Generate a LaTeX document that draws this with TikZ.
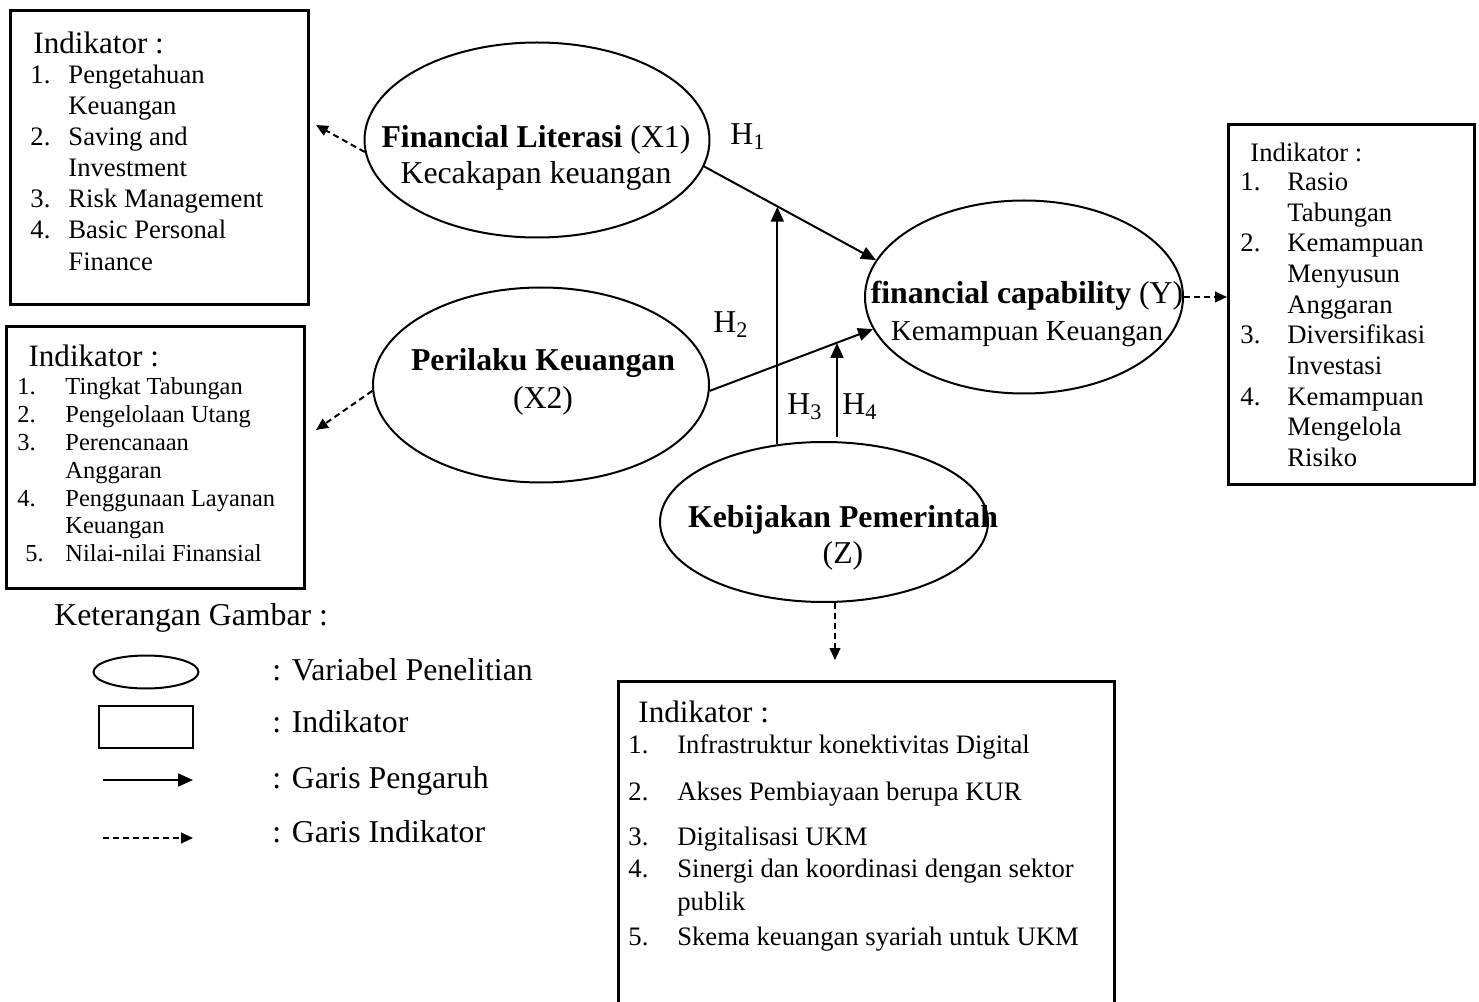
\documentclass[tikz,border=0pt]{standalone}
\usepackage{fontspec}
\setmainfont{Liberation Serif}
\usetikzlibrary{shapes.geometric, arrows.meta}
\newcommand{\pxu}{0.45pt}
\newcommand{\fsvar}{\fontsize{14.3pt}{16.2pt}\selectfont}
\begin{document}
\begin{tikzpicture}[
    x=\pxu, y=-\pxu,
    var/.style={ellipse, draw, line width=0.9pt, inner sep=0pt},
    indbox/.style={rectangle, draw, line width=1.2pt, inner sep=0pt, anchor=north west},
    listtext/.style={inner sep=0pt, anchor=north west},
    vartext/.style={align=center, inner sep=0pt, font=\fsvar},
    hlabel/.style={inner sep=0pt, anchor=base west, font=\fsvar},
    legtext/.style={inner sep=0pt, anchor=base west, font=\fsvar},
    effect/.style={line width=0.9pt, -{Triangle[length=6.7pt, width=5.8pt]}},
    indline/.style={line width=0.9pt, dash pattern=on 2.7pt off 1.8pt, -{Triangle[length=5.4pt, width=4.8pt]}}
]
    \useasboundingbox (0,0) rectangle (1479,1002);

    % Indicator boxes
    \node [indbox, minimum width=298*\pxu, minimum height=294*\pxu] (ind1) at (9,9) {};
    \node [indbox, minimum width=298*\pxu, minimum height=262*\pxu] (ind2) at (5,325) {};
    \node [indbox, minimum width=246*\pxu, minimum height=360*\pxu] (ind3) at (1227,123) {};
    \node [indbox, minimum width=496*\pxu, minimum height=340*\pxu] (ind4) at (617,680) {};

    \node [listtext] (ind1list) at (30,31) {\fontsize{12pt}{13.9pt}\selectfont
        \begin{tabular}{@{}p{17.1pt}@{}l@{}}
        \multicolumn{2}{@{\hspace{1.35pt}}l@{}}{\fontsize{14pt}{13.9pt}\selectfont Indikator :}\\
        1. & Pengetahuan\\
           & Keuangan\\
        2. & Saving and\\
           & Investment\\
        3. & Risk Management\\
        4. & Basic Personal\\[0.6pt]
           & Finance
        \end{tabular}};
    \node [listtext] (ind2list) at (17,344) {\fontsize{11pt}{12.5pt}\selectfont
        \begin{tabular}{@{}p{21.6pt}@{}l@{}}
        \multicolumn{2}{@{\hspace{5pt}}l@{}}{\fontsize{14pt}{12.5pt}\selectfont Indikator :}\\[0.5pt]
        1. & Tingkat Tabungan\\
        2. & Pengelolaan Utang\\
        3. & Perencanaan\\
           & Anggaran\\
        4. & Penggunaan Layanan\\
           & Keuangan\\
        \hspace{3.6pt}5. & Nilai-nilai Finansial
        \end{tabular}};
    \node [listtext] (ind3list) at (1240,139.5) {\fontsize{12pt}{13.8pt}\selectfont
        \begin{tabular}{@{}p{21.15pt}@{}l@{}}
        \multicolumn{2}{@{\hspace{4.5pt}}l@{}}{Indikator :}\\[-0.7pt]
        1. & Rasio\\
           & Tabungan\\
        2. & Kemampuan\\
           & Menyusun\\
           & Anggaran\\
        3. & Diversifikasi\\
           & Investasi\\
        4. & Kemampuan\\
           & Mengelola\\
           & Risiko
        \end{tabular}};
    \node [listtext] (ind4list) at (628,700) {\fontsize{12pt}{13.95pt}\selectfont
        \begin{tabular}{@{}p{22pt}@{}l@{}}
        \multicolumn{2}{@{\hspace{4.5pt}}l@{}}{\fontsize{14pt}{13.95pt}\selectfont Indikator :}\\
        1. & Infrastruktur konektivitas Digital\\[7.2pt]
        2. & Akses Pembiayaan berupa KUR\\[6.3pt]
        3. & Digitalisasi UKM\\[0.4pt]
        4. & Sinergi dan koordinasi dengan sektor\\[0.9pt]
           & publik\\[1.8pt]
        5. & Skema keuangan syariah untuk UKM
        \end{tabular}};

    % Research variables
    \node [var, minimum width=345*\pxu, minimum height=195*\pxu] (x1) at (537,140) {};
    \node [var, minimum width=336*\pxu, minimum height=195*\pxu] (x2) at (541,385) {};
    \node [var, minimum width=318*\pxu, minimum height=193*\pxu] (y) at (1024,297) {};
    \node [var, minimum width=328*\pxu, minimum height=160*\pxu] (z) at (824,522) {};

    \node [vartext] (x1text) at (536,158) {\textbf{Financial Literasi} (X1)\\Kecakapan keuangan};
    \node [vartext, font=\fontsize{14.3pt}{17.1pt}\selectfont] (x2text) at (543,382) {\textbf{Perilaku Keuangan}\\(X2)};
    \node [vartext, font=\fontsize{14.3pt}{16.65pt}\selectfont] (ytext) at (1027,314) {\textbf{financial capability} (Y)\\{\fontsize{13pt}{16.65pt}\selectfont Kemampuan Keuangan}};
    \node [vartext] (ztext) at (843,538) {\textbf{Kebijakan Pemerintah}\\(Z)};

    % Effect lines
    \draw [effect] (x1.351) -- coordinate[pos=0.431] (h3tip) (y.166);
    \draw [effect] (x2.358) -- coordinate[pos=0.776] (h4tip) (y.192);
    \coordinate (h4base) at (837,437);
    \draw [effect] (z.121) -- (z.121 |- h3tip);
    \draw [effect] (h4base) -- (h4base |- h4tip);

    % Indicator lines
    \coordinate (ind1tip) at (316,125);
    \coordinate (ind2tip) at (316,430);
    \coordinate (ind4tip) at (835,660);
    \draw [indline] (x1.184) -- (ind1tip);
    \draw [indline] (x2.182) -- (ind2tip);
    \draw [indline] (y.east) -- (y.east -| ind3.west);
    \draw [indline] (z.south -| ind4tip) -- (ind4tip);

    % Hypotheses
    \node [hlabel] (h1) at (730,145) {H\textsubscript{1}};
    \node [hlabel] (h2) at (713,333) {H\textsubscript{2}};
    \node [hlabel] (h3) at (787,415) {H\textsubscript{3}};
    \node [hlabel] (h4) at (842,415) {H\textsubscript{4}};

    % Legend
    \node [legtext] (legtitle) at (54,625) {Keterangan Gambar :};
    \node [var, minimum width=105*\pxu, minimum height=33*\pxu] (legvar) at (146,672) {};
    \node [indbox, line width=0.9pt, minimum width=94*\pxu, minimum height=42*\pxu] (legind) at (98,705) {};
    \coordinate (legeffa) at (103,780);
    \coordinate (legeffb) at (193,780);
    \coordinate (leginda) at (103,838);
    \coordinate (legindb) at (193,838);
    \draw [effect] (legeffa) -- (legeffb);
    \draw [indline] (leginda) -- (legindb);
    \node [legtext] (legvartext) at (272,680) {: Variabel Penelitian};
    \node [legtext] (legindtext) at (272,732) {: Indikator};
    \node [legtext] (legefftext) at (272,788) {: Garis Pengaruh};
    \node [legtext] (leglinetext) at (272,842) {: Garis Indikator};
\end{tikzpicture}
\end{document}
